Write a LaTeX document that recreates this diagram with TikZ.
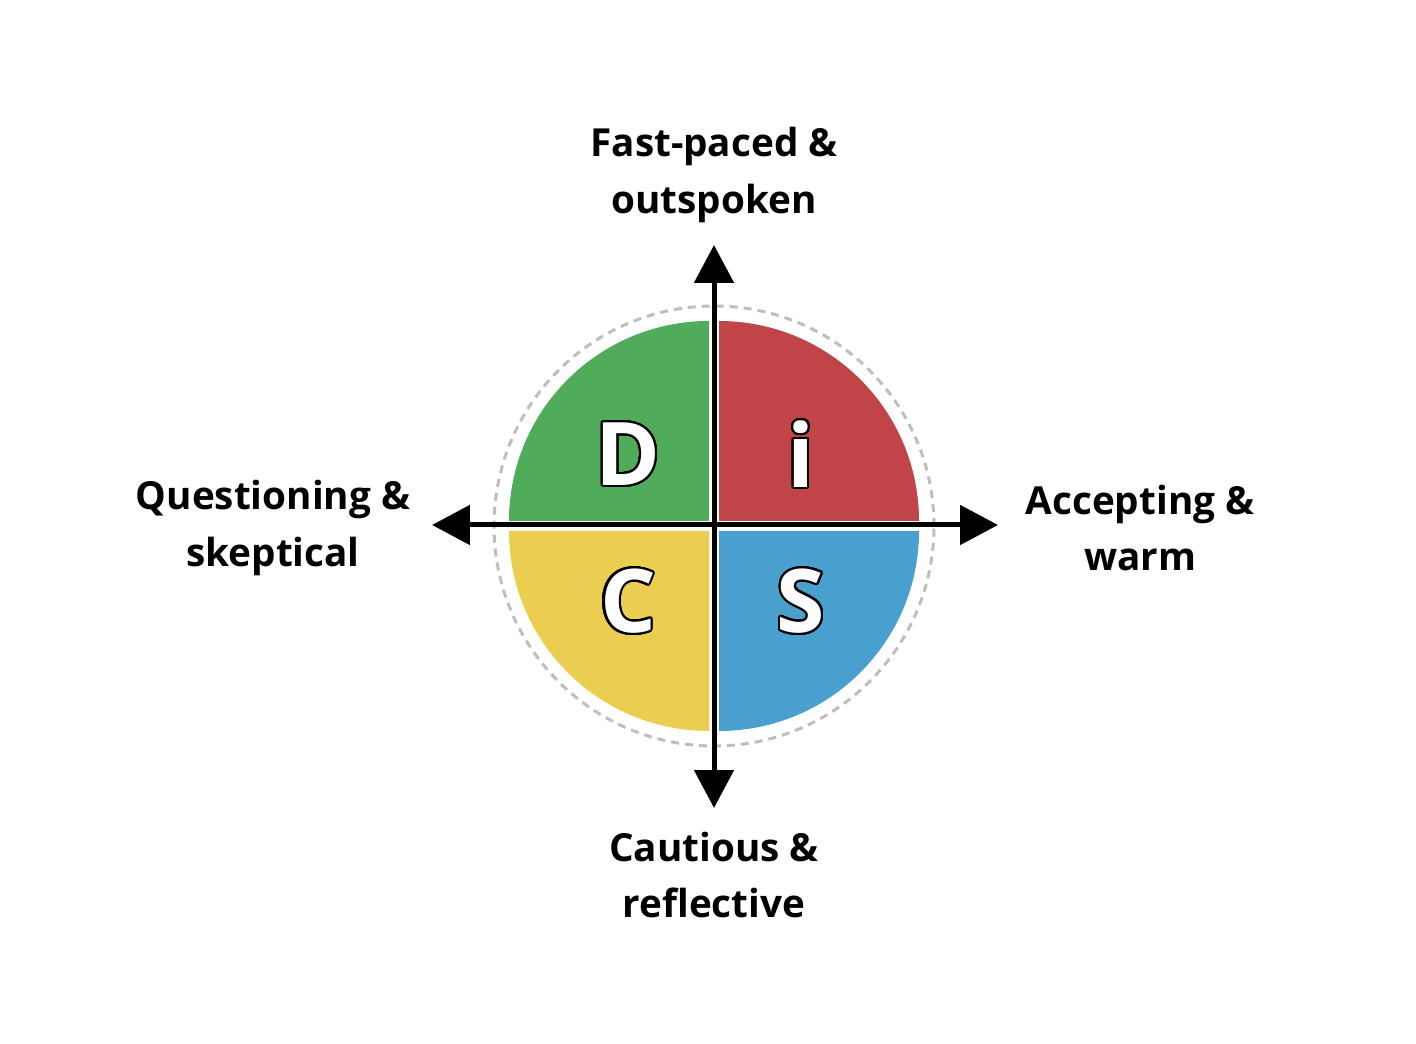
\documentclass[tikz,border=0pt]{standalone}
\usepackage{fontspec}
\setmainfont{Open Sans}
\usepackage{contour}
\contourlength{1.2pt}
\contournumber{32}
\usetikzlibrary{arrows.meta,positioning}
\definecolor{discgreen}{RGB}{80,172,90}
\definecolor{discred}{RGB}{192,68,72}
\definecolor{discyellow}{RGB}{235,205,80}
\definecolor{discblue}{RGB}{73,160,206}
\definecolor{ringgray}{RGB}{190,190,190}

\begin{document}
\begin{tikzpicture}[x=0.02cm, y=0.02cm,
    axislabel/.style={align=center, font=\fontsize{22}{32}\selectfont\bfseries},
    letter/.style={font=\fontsize{50}{50}\selectfont\bfseries},
    axis/.style={line width=0.1cm, arrows={Triangle[width=0.78cm,length=0.76cm]-Triangle[width=0.78cm,length=0.76cm]}}
]
\useasboundingbox (0,0) rectangle (1416,1044);

% quadrants
\fill[discgreen] (709,523) -- (509,523) arc[start angle=180, end angle=90, radius=200] -- cycle;
\fill[discred] (719,523) -- (719,723) arc[start angle=90, end angle=0, radius=200] -- cycle;
\fill[discyellow] (709,513) -- (709,313) arc[start angle=270, end angle=180, radius=200] -- cycle;
\fill[discblue] (719,513) -- (919,513) arc[start angle=0, end angle=-90, radius=200] -- cycle;

% outer ring
\coordinate (c) at (714,518);
\draw[ringgray, line width=0.06cm, dash pattern=on 0.16cm off 0.12cm] (c) circle[radius=220];

% axes
\coordinate (top) at (714,799);
\coordinate (bottom) at (714,236);
\coordinate (left) at (432,519);
\coordinate (right) at (998,519);
\draw[axis] (bottom) -- (top);
\draw[axis] (left) -- (right);

\node[letter] (d) at (628,589) {\contour{black}{\textcolor{white}{D}}};
\node[letter] (i) at (801,589) {\contour{black}{\textcolor{white}{i}}};
\node[letter] (cc) at (628,442) {\contour{black}{\textcolor{white}{C}}};
\node[letter] (s) at (801,442) {\contour{black}{\textcolor{white}{S}}};

\node[axislabel] (fast) at (714,869) {Fast-paced \&\\outspoken};
\node[axislabel] (quest) at (273,516) {Questioning \&\\skeptical};
\node[axislabel] (acc) at (1140,516) {Accepting \&\\warm};
\node[axislabel] (caut) at (714,169) {Cautious \&\\reflective};

\end{tikzpicture}
\end{document}
